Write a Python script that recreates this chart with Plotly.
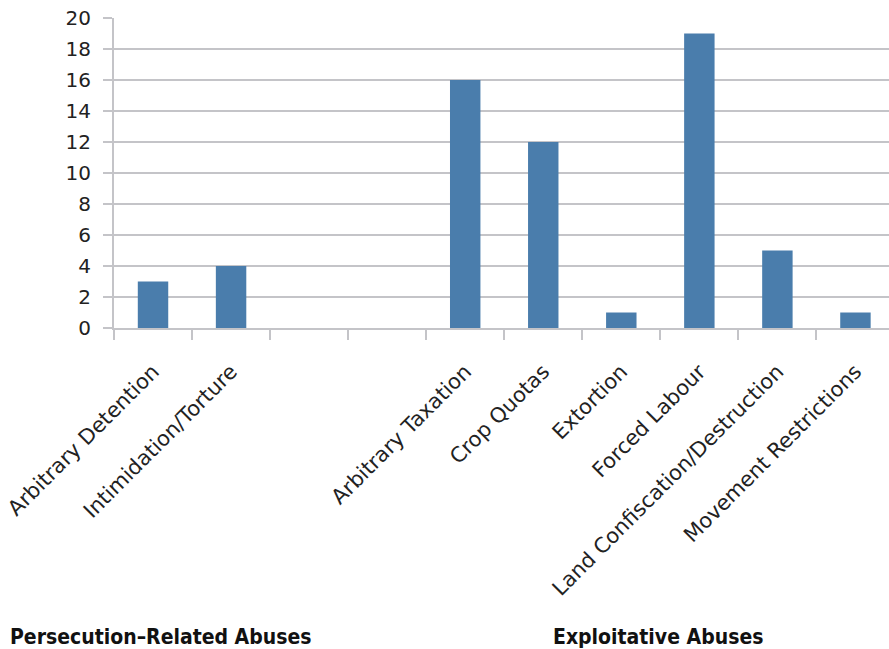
import plotly.graph_objects as go

categories = ["Arbitrary Detention", "Intimidation/Torture", " ", "  ",
              "Arbitrary Taxation", "Crop Quotas", "Extortion", "Forced Labour",
              "Land Confiscation/Destruction", "Movement Restrictions"]
values = [3, 4, None, None, 16, 12, 1, 19, 5, 1]
group_labels = ["Persecution\u2013Related Abuses", "Exploitative Abuses"]
y_ticks = list(range(0, 21, 2))

W, H = 889, 649
L, T, B = 114, 18, 321
pw, ph = W - L, H - T - B

fig = go.Figure(go.Bar(x=categories, y=values, marker=dict(color="#4a7dac", line=dict(width=0)),
                       width=0.39))

def px_to_paper_x(px):
    return (px - L) / pw

def px_to_paper_y(py):
    return (H - B - py) / ph

lab_font = dict(family="DejaVu Sans Condensed, DejaVu Sans", size=21, color="#111")
fig.add_annotation(text="<b>" + group_labels[0] + "</b>", xref="paper", yref="paper",
                   x=px_to_paper_x(8), y=px_to_paper_y(637), xanchor="left", yanchor="middle",
                   showarrow=False, font=lab_font)
fig.add_annotation(text="<b>" + group_labels[1] + "</b>", xref="paper", yref="paper",
                   x=px_to_paper_x(551), y=px_to_paper_y(637), xanchor="left", yanchor="middle",
                   showarrow=False, font=lab_font)

grid = "#c4c4c8"
fig.update_layout(
    width=W, height=H,
    margin=dict(l=L, r=0, t=T, b=B, pad=0),
    plot_bgcolor="white", paper_bgcolor="white",
    showlegend=False,
    font=dict(family="DejaVu Sans", size=20, color="#222"),
    xaxis=dict(type="category", categoryorder="array", categoryarray=categories,
               range=[-0.5, 9.43], tickangle=-45, tickson="boundaries",
               ticks="outside", ticklen=10, tickcolor=grid, tickwidth=2,
               ticklabelstandoff=21,
               showline=True, linecolor=grid, linewidth=2, showgrid=False,
               tickfont=dict(family="DejaVu Sans", size=21, color="#222")),
    yaxis=dict(range=[0, 20], tickvals=y_ticks, ticks="outside", ticklen=9,
               tickcolor=grid, tickwidth=2, showgrid=True, gridcolor=grid, gridwidth=2,
               ticklabelstandoff=8,
               showline=True, linecolor=grid, linewidth=2, zeroline=False,
               tickfont=dict(family="DejaVu Sans", size=20, color="#222")),
)

fig.write_html("out.html")
